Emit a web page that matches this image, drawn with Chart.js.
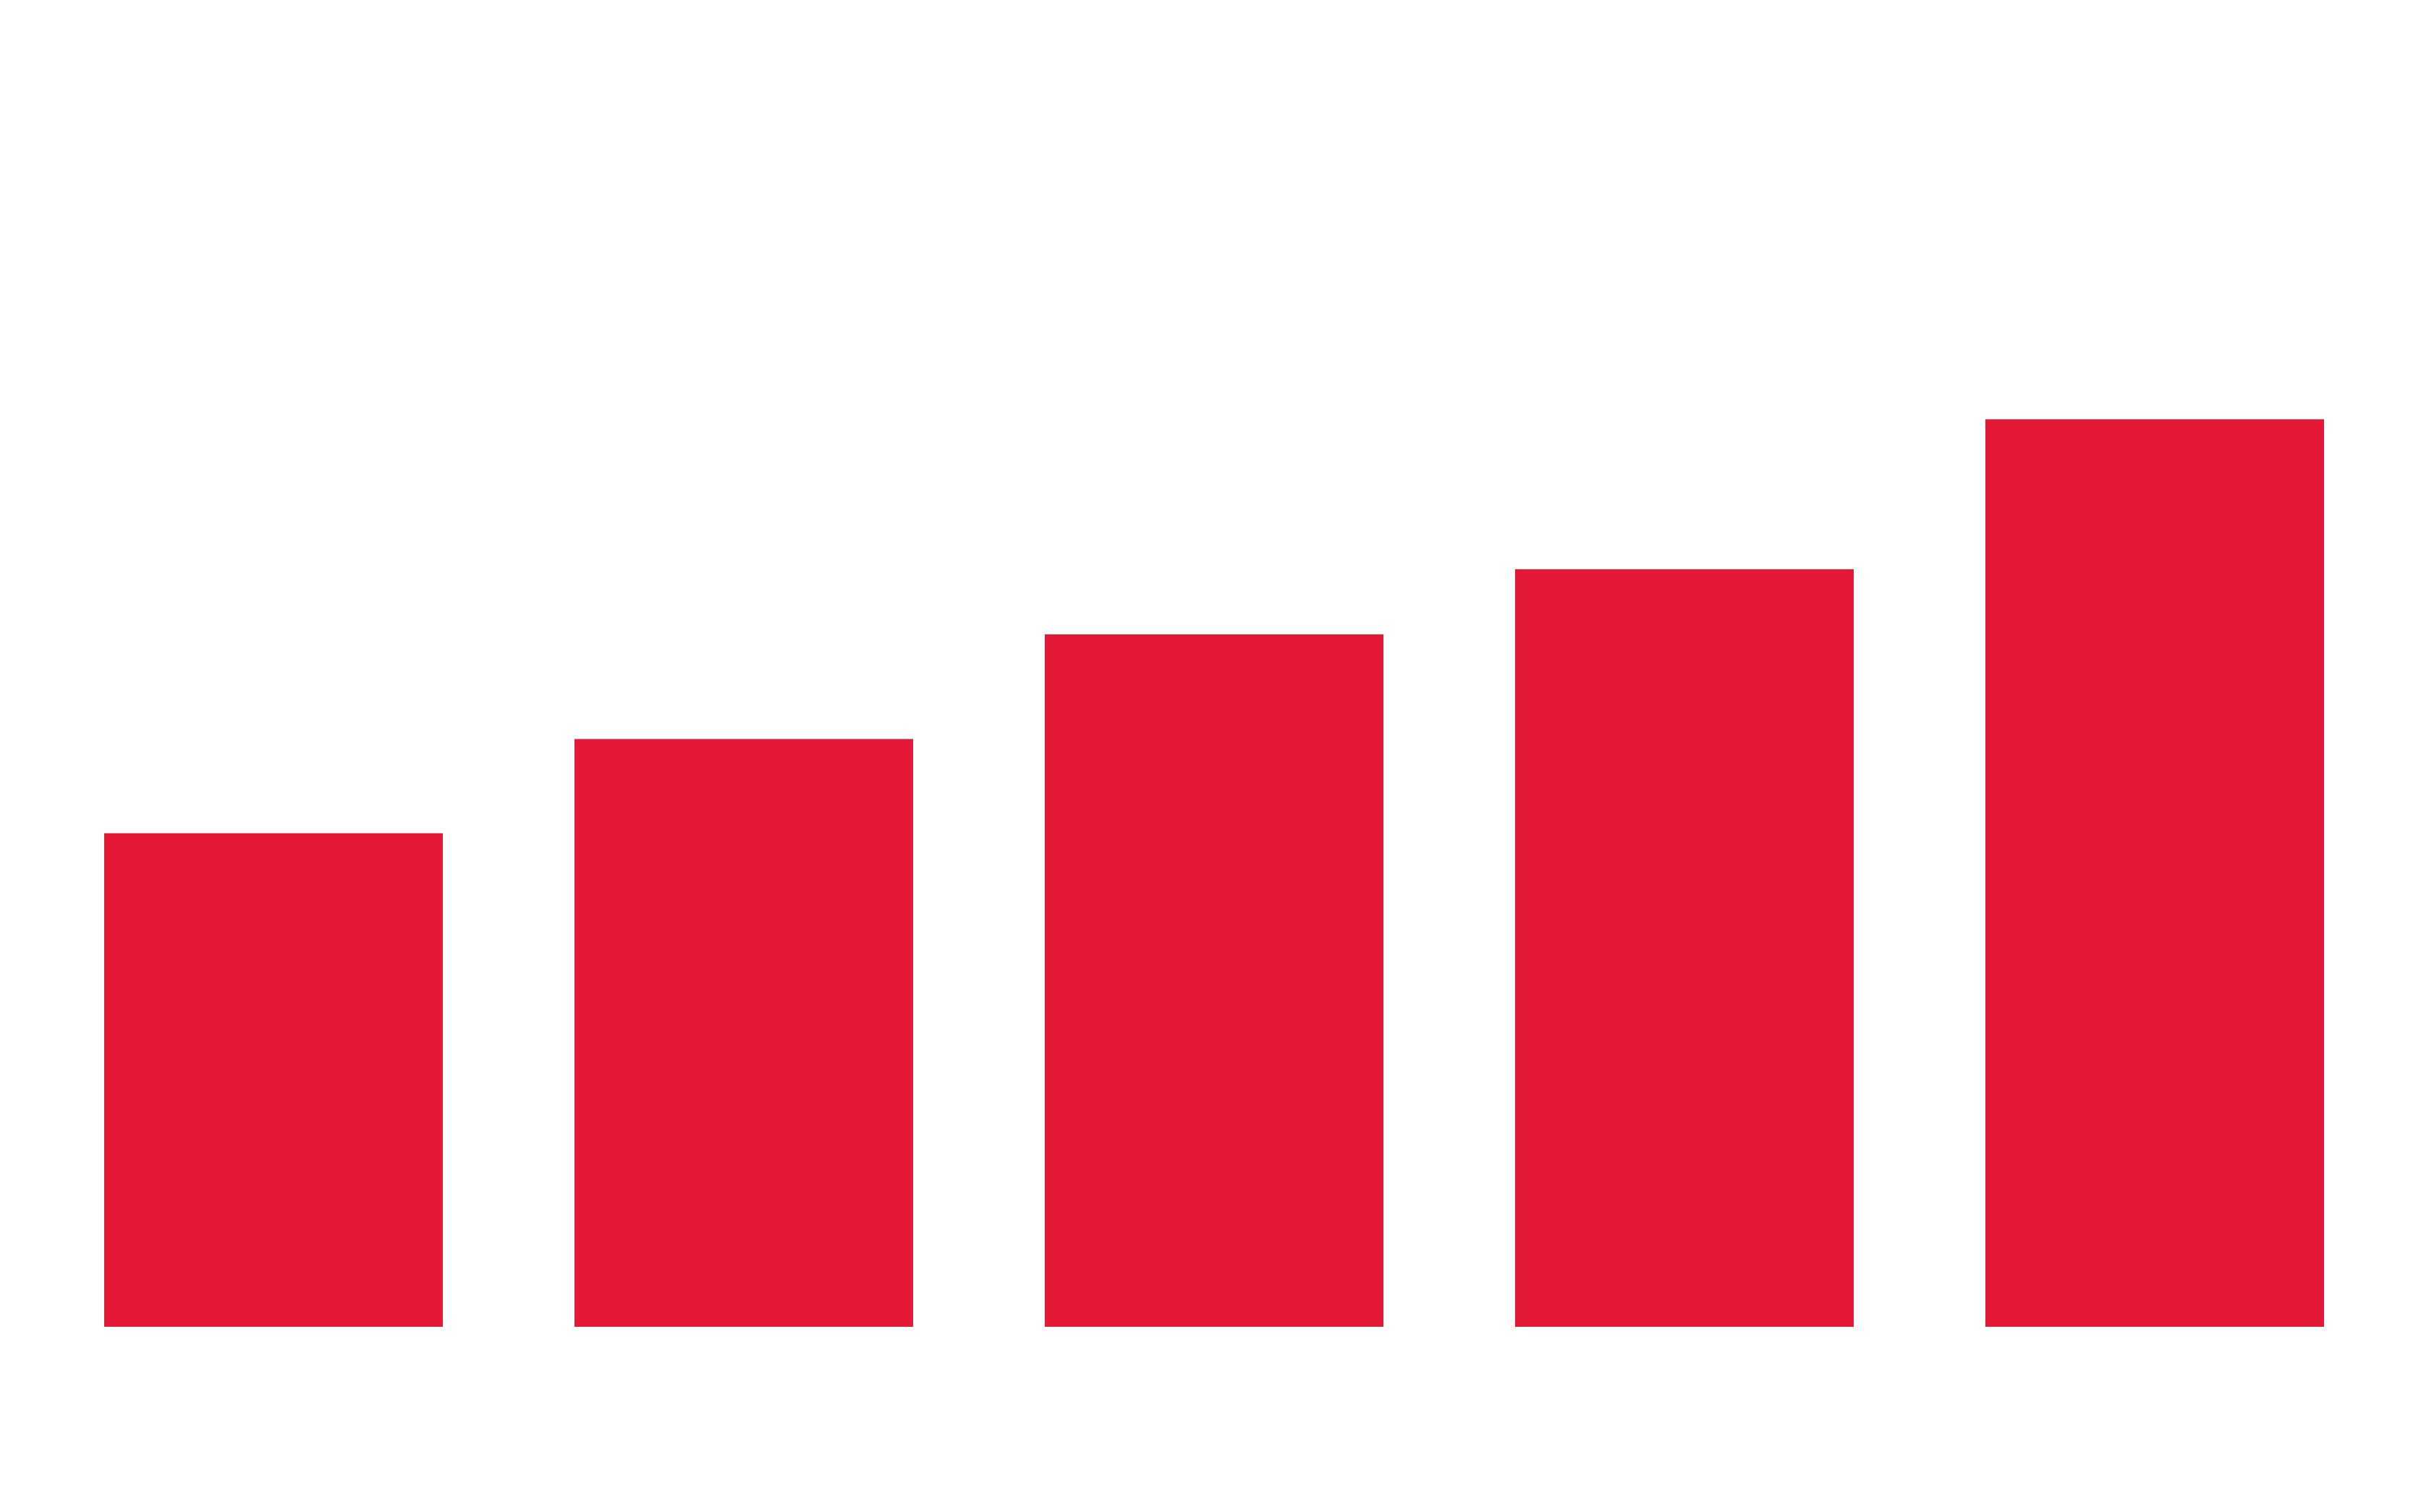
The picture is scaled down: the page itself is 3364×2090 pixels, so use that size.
<!DOCTYPE html>
<html>
<head>
<meta charset="utf-8">
<style>
  html, body { margin: 0; padding: 0; background: #fff; }
  #chart { display: block; }
</style>
<script src="https://cdn.jsdelivr.net/npm/chart.js@4/dist/chart.umd.min.js"></script>
</head>
<body>
<canvas id="chart" width="3364" height="2090"></canvas>
<script>
  // five bars, no axes or labels in the original
  var labels = ["1", "2", "3", "4", "5"];
  var values = [37.2, 44.3, 52.2, 57.1, 68.4];
  var barColor = "#e31937";

  new Chart(document.getElementById("chart"), {
    type: "bar",
    data: {
      labels: labels,
      datasets: [{ data: values, backgroundColor: barColor, borderWidth: 0 }]
    },
    options: {
      responsive: false,
      animation: false,
      layout: { padding: { left: 53, right: 61, top: 0, bottom: 256 } },
      plugins: { legend: { display: false }, tooltip: { enabled: false } },
      scales: {
        x: { display: false },
        y: { display: false, min: 0, max: 100 }
      }
    }
  });
</script>
</body>
</html>
